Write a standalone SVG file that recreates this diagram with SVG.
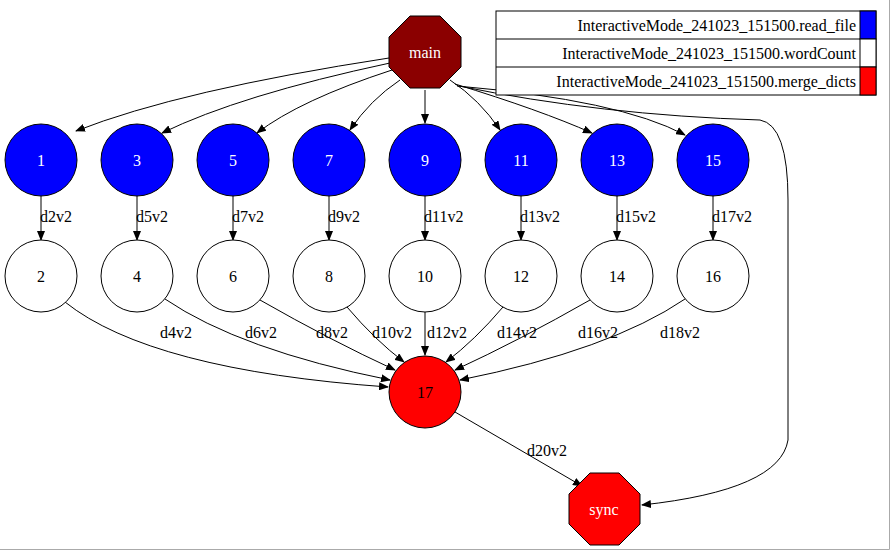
<svg xmlns="http://www.w3.org/2000/svg" width="891" height="551" viewBox="0 0 891 551">
<style>
.e{fill:none;stroke:#000;stroke-width:1;marker-end:url(#a)}
text{font-family:"Liberation Serif",serif;font-size:16px}
.c{text-anchor:middle;dominant-baseline:central}
.w{fill:#fff}
.b{fill:#0000ff;stroke:#000}
.o{fill:#fff;stroke:#000}
.r{fill:#ff0000;stroke:#000}
</style>
<defs><marker id="a" markerWidth="10" markerHeight="8" refX="9" refY="4" orient="auto" markerUnits="userSpaceOnUse"><path d="M0,0L10,4L0,8z"/></marker></defs>
<rect x="0" y="0" width="891" height="551" fill="#fff"/>
<path d="M0,549.5H889.5V0" fill="none" stroke="#aaa"/>
<g id="connectors">
<path class="e" d="M389,58Q180,90 76,131"/>
<path class="e" d="M390,63Q240,95 162,133"/>
<path class="e" d="M392,70Q300,100 257,133"/>
<path class="e" d="M400,80Q370,100 350,130"/>
<path class="e" d="M425,90V123"/>
<path class="e" d="M450,80Q480,100 500,130"/>
<path class="e" d="M455,84Q540,110 592,133"/>
<path class="e" d="M457,86Q620,100 685,135"/>
<path class="e" d="M459,86Q600,115 760,120Q788,125 788,200V440Q780,490 642,505"/>
<path class="e" d="M41,196V240"/><path class="e" d="M137,196V240"/><path class="e" d="M233,196V240"/><path class="e" d="M329,196V240"/>
<path class="e" d="M425,196V240"/><path class="e" d="M521,196V240"/><path class="e" d="M617,196V240"/><path class="e" d="M713,196V240"/>
<path class="e" d="M65,302Q150,370 388,387"/>
<path class="e" d="M165,299Q240,350 390,380"/>
<path class="e" d="M260,300Q330,340 395,370"/>
<path class="e" d="M347,307Q375,340 404,362"/>
<path class="e" d="M425,312V355"/>
<path class="e" d="M503,307Q475,340 446,362"/>
<path class="e" d="M590,300Q520,340 455,370"/>
<path class="e" d="M685,299Q610,350 460,380"/>
<path class="e" d="M455,412L582,486"/>
</g>
<g id="labels">
<text x="40" y="222">d2v2</text><text x="136" y="222">d5v2</text><text x="232" y="222">d7v2</text><text x="328" y="222">d9v2</text>
<text x="424" y="222">d11v2</text><text x="520" y="222">d13v2</text><text x="616" y="222">d15v2</text><text x="712" y="222">d17v2</text>
<text x="160" y="338">d4v2</text><text x="245" y="338">d6v2</text><text x="316" y="338">d8v2</text><text x="372" y="338">d10v2</text>
<text x="427" y="338">d12v2</text><text x="497" y="338">d14v2</text><text x="578" y="338">d16v2</text><text x="660" y="338">d18v2</text>
<text x="527" y="456">d20v2</text>
</g>
<g id="main"><polygon points="410,16 440,16 461,37 461,67 440,88 410,88 389,67 389,37" fill="#8b0000" stroke="#000"/><text class="c w" x="425" y="52">main</text></g>
<g id="n1"><circle class="b" cx="41" cy="160" r="36"/><text class="c w" x="41" y="160">1</text></g>
<g id="n3"><circle class="b" cx="137" cy="160" r="36"/><text class="c w" x="137" y="160">3</text></g>
<g id="n5"><circle class="b" cx="233" cy="160" r="36"/><text class="c w" x="233" y="160">5</text></g>
<g id="n7"><circle class="b" cx="329" cy="160" r="36"/><text class="c w" x="329" y="160">7</text></g>
<g id="n9"><circle class="b" cx="425" cy="160" r="36"/><text class="c w" x="425" y="160">9</text></g>
<g id="n11"><circle class="b" cx="521" cy="160" r="36"/><text class="c w" x="521" y="160">11</text></g>
<g id="n13"><circle class="b" cx="617" cy="160" r="36"/><text class="c w" x="617" y="160">13</text></g>
<g id="n15"><circle class="b" cx="713" cy="160" r="36"/><text class="c w" x="713" y="160">15</text></g>
<g id="n2"><circle class="o" cx="41" cy="276" r="36"/><text class="c" x="41" y="276">2</text></g>
<g id="n4"><circle class="o" cx="137" cy="276" r="36"/><text class="c" x="137" y="276">4</text></g>
<g id="n6"><circle class="o" cx="233" cy="276" r="36"/><text class="c" x="233" y="276">6</text></g>
<g id="n8"><circle class="o" cx="329" cy="276" r="36"/><text class="c" x="329" y="276">8</text></g>
<g id="n10"><circle class="o" cx="425" cy="276" r="36"/><text class="c" x="425" y="276">10</text></g>
<g id="n12"><circle class="o" cx="521" cy="276" r="36"/><text class="c" x="521" y="276">12</text></g>
<g id="n14"><circle class="o" cx="617" cy="276" r="36"/><text class="c" x="617" y="276">14</text></g>
<g id="n16"><circle class="o" cx="713" cy="276" r="36"/><text class="c" x="713" y="276">16</text></g>
<g id="n17"><circle class="r" cx="425" cy="392" r="36"/><text class="c" x="425" y="392">17</text></g>
<g id="sync"><polygon points="590,473 619,473 640,494 640,524 619,545 590,545 569,524 569,494" fill="#ff0000" stroke="#000"/><text class="c w" x="604" y="509">sync</text></g>
<g id="legend">
<rect x="496" y="11" width="380" height="84" fill="#fff" stroke="#000"/>
<line x1="496" y1="39" x2="876" y2="39" stroke="#000"/><line x1="496" y1="67" x2="876" y2="67" stroke="#000"/>
<rect x="860" y="11" width="16" height="28" fill="#0000ff" stroke="#000"/>
<rect x="860" y="39" width="16" height="28" fill="#fff" stroke="#000"/>
<rect x="860" y="67" width="16" height="28" fill="#ff0000" stroke="#000"/>
<text x="856" y="31" text-anchor="end">InteractiveMode_241023_151500.read_file</text>
<text x="856" y="59" text-anchor="end">InteractiveMode_241023_151500.wordCount</text>
<text x="856" y="87" text-anchor="end">InteractiveMode_241023_151500.merge_dicts</text>
</g>
</svg>
